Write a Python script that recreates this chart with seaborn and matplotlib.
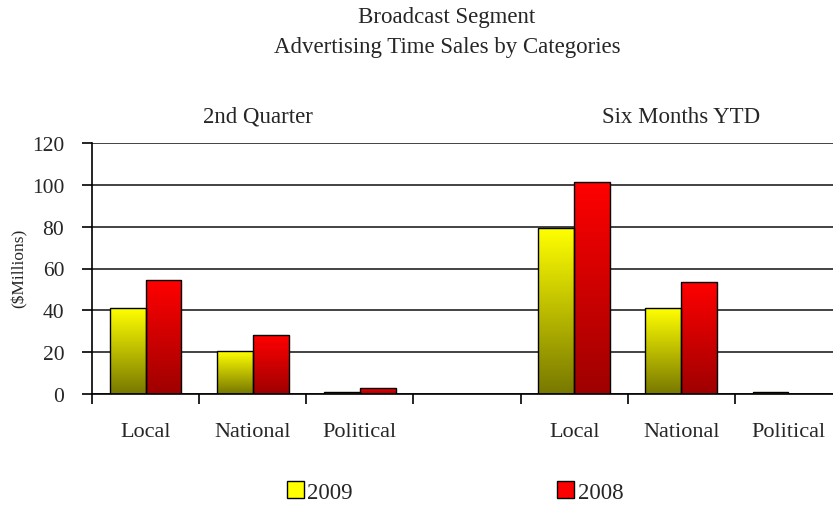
import numpy as np
import pandas as pd
import matplotlib
matplotlib.use("Agg")
import matplotlib.pyplot as plt
import seaborn as sns
from matplotlib.patches import Patch

# ---- data ----
title_lines = ["Broadcast Segment", "Advertising Time Sales by Categories"]
periods = ["2nd Quarter", "Six Months YTD"]
categories = ["Local", "National", "Political"]
years = ["2009", "2008"]
q2_2009 = [41.0, 20.5, 0.9]
q2_2008 = [54.3, 28.0, 2.8]
ytd_2009 = [79.2, 41.0, 0.9]
ytd_2008 = [101.2, 53.4, 0.0]
y_ticks = [0, 20, 40, 60, 80, 100, 120]
y_label = "($Millions)"

sns.set_theme(style="white")
plt.rcParams['font.family'] = ['Liberation Serif', 'DejaVu Serif']

rows = []
for period, v09, v08 in [(periods[0], q2_2009, q2_2008), (periods[1], ytd_2009, ytd_2008)]:
    for cat, a, b in zip(categories, v09, v08):
        key = f"{period}|{cat}"
        rows.append((key, years[0], a))
        rows.append((key, years[1], b))
df = pd.DataFrame(rows, columns=["slot", "year", "value"])
order = [f"{periods[0]}|{c}" for c in categories] + ["gap"] + [f"{periods[1]}|{c}" for c in categories]

top_colors = {"2009": (1.0, 1.0, 0.0), "2008": (1.0, 0.0, 0.0)}
bottom_colors = {"2009": (0.47, 0.47, 0.0), "2008": (0.62, 0.0, 0.0)}

fig = plt.figure(figsize=(8.33, 5.06), dpi=100)
ax = fig.add_axes([92 / 833, 1 - 395 / 506, 750 / 833, 251 / 506])

sns.barplot(data=df, x="slot", y="value", hue="year", order=order, hue_order=years,
            palette={y: top_colors[y] for y in years}, width=0.67, ax=ax,
            edgecolor="black", linewidth=1.0, legend=False, errorbar=None)

ax.set_xlim(-0.5, 6.5)
ax.set_ylim(0, 120)

# gradient fills
for yr, cont in zip(years, ax.containers):
    t = np.array(top_colors[yr]); b = np.array(bottom_colors[yr])
    grad = np.linspace(0, 1, 128)[:, None, None]
    img = t * (1 - grad) + b * grad
    for bar in cont:
        h = bar.get_height()
        if not np.isfinite(h) or h <= 0:
            continue
        x0 = bar.get_x(); w = bar.get_width()
        ax.imshow(img, extent=(x0, x0 + w, 0, h), aspect="auto", origin="upper",
                  zorder=2, interpolation="bilinear")
        bar.set_facecolor("none")
        bar.set_zorder(3)
ax.set_xlim(-0.5, 6.5)
ax.set_ylim(0, 120)

# axes styling
ax.set_xlabel("")
ax.set_ylabel("")
for s in ["top", "right"]:
    ax.spines[s].set_visible(False)
for s in ["left", "bottom"]:
    ax.spines[s].set_color("black")
    ax.spines[s].set_linewidth(1.2)
ax.set_yticks(y_ticks)
ax.yaxis.grid(True, color="#222222", linewidth=1.2)
ax.set_axisbelow(True)
ax.tick_params(axis="y", direction="out", length=7, width=1.2, color="black",
               labelsize=15.5, pad=13, left=True)
xlabels = categories + [""] + categories
ax.set_xticks(range(7))
ax.set_xticklabels(xlabels, fontsize=16)
ax.tick_params(axis="x", which="major", length=0, pad=20)
ax.set_xticks(np.arange(-0.5, 7.0, 1.0), minor=True)
ax.tick_params(axis="x", which="minor", direction="out", length=7, width=1.2,
               color="black", bottom=True)

# group labels
ax.text(1.05, 1.107, periods[0], transform=ax.get_xaxis_transform(), ha="center",
        va="center", fontsize=16.5)
ax.text(5, 1.107, periods[1], transform=ax.get_xaxis_transform(), ha="center",
        va="center", fontsize=16.5)

# title
fig.text(447 / 833, 1 - 18 / 506, title_lines[0], ha="center", va="center", fontsize=16.5)
fig.text(447 / 833, 1 - 47 / 506, title_lines[1], ha="center", va="center", fontsize=16.5)

# y label
fig.text(20 / 833, 1 - 268 / 506, y_label, rotation=90, ha="center", va="center", fontsize=12.5)

# legend
handles = [Patch(facecolor=top_colors[y], edgecolor="black", linewidth=1.0) for y in years]
fig.legend(handles, years, loc="center", bbox_to_anchor=(455 / 833, 1 - 493 / 506),
           ncol=2, frameon=False, fontsize=16.5, handlelength=0.75, handleheight=0.75,
           handletextpad=0.15, columnspacing=8.9, borderpad=0)

fig.savefig("out.png", dpi=100)
